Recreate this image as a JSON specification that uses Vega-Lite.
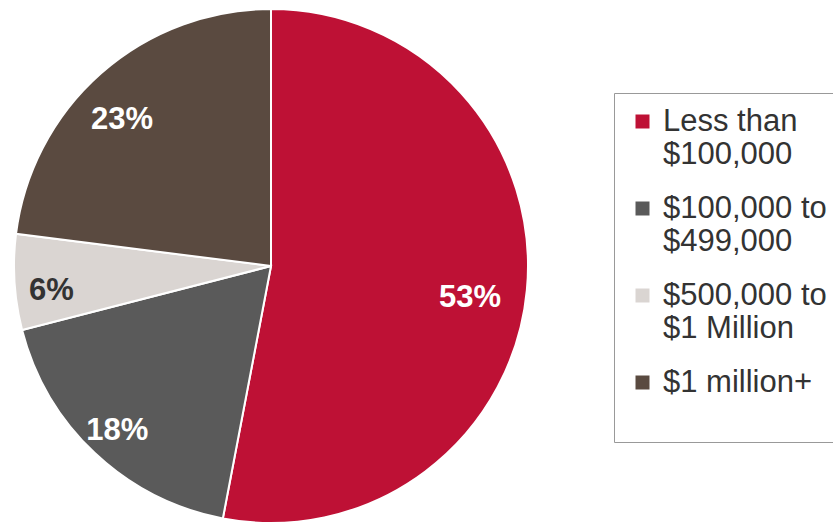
{
  "$schema": "https://vega.github.io/schema/vega-lite/v6.json",
  "width": 514,
  "height": 514,
  "autosize": "none",
  "padding": {"left": 14, "top": 9, "right": 305, "bottom": 0},
  "background": "white",
  "config": {"view": {"stroke": null}, "font": "Liberation Sans"},
  "data": {"values": [
    {"category": "Less than $100,000", "share": 53, "rank": 1, "label": "53%"},
    {"category": "$100,000 to $499,000", "share": 18, "rank": 2, "label": "18%"},
    {"category": "$500,000 to $1 Million", "share": 6, "rank": 3, "label": "6%"},
    {"category": "$1 million+", "share": 23, "rank": 4, "label": "23%"}
  ]},
  "encoding": {
    "theta": {"field": "share", "type": "quantitative", "stack": true},
    "order": {"field": "rank", "type": "quantitative"}
  },
  "layer": [
    {
      "mark": {"type": "arc", "stroke": "white", "strokeWidth": 2},
      "encoding": {
        "color": {
          "field": "category",
          "type": "nominal",
          "sort": ["Less than $100,000", "$100,000 to $499,000", "$500,000 to $1 Million", "$1 million+"],
          "scale": {
            "domain": ["Less than $100,000", "$100,000 to $499,000", "$500,000 to $1 Million", "$1 million+"],
            "range": ["#BE1135", "#5A5A5A", "#DAD5D2", "#5A4A40"]
          },
          "legend": {
            "title": " ",
            "titleOrient": "bottom",
            "titleFontSize": 22,
            "titlePadding": 10,
            "orient": "none",
            "legendX": 600,
            "legendY": 84,
            "padding": 13,
            "strokeColor": "#999999",
            "symbolType": "square",
            "symbolSize": 196,
            "symbolStrokeWidth": 0,
            "labelFontSize": 31,
            "labelColor": "#333333",
            "labelFont": "Liberation Sans",
            "labelLimit": 400,
            "labelOffset": 5,
            "labelBaseline": "middle",
            "labelLineHeight": 36,
            "rowPadding": 22,
            "labelExpr": "datum.label == 'Less than $100,000' ? ['Less than', '$100,000'] : datum.label == '$100,000 to $499,000' ? ['$100,000 to', '$499,000'] : datum.label == '$500,000 to $1 Million' ? ['$500,000 to', '$1 Million'] : datum.label"
          }
        }
      }
    },
    {
      "mark": {"type": "text", "radius": 210, "dx": -10, "dy": 12, "fontSize": 31, "fontWeight": "bold", "font": "Liberation Sans"},
      "encoding": {
        "text": {"field": "label", "type": "nominal"},
        "color": {
          "condition": {"test": "datum.rank == 3", "value": "#333333"},
          "value": "white"
        }
      }
    }
  ]
}
